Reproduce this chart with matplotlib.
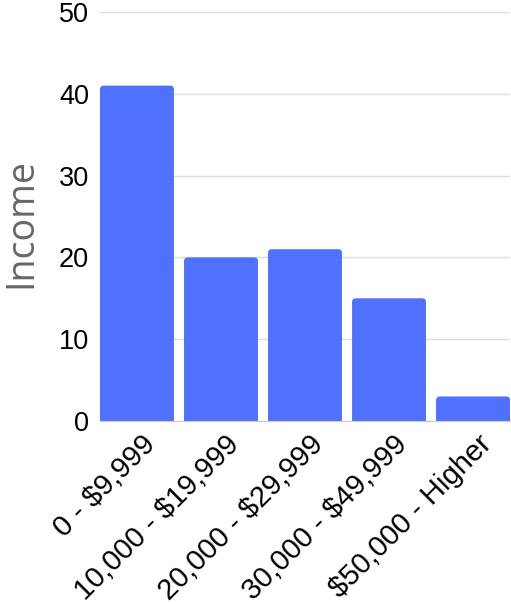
import matplotlib.pyplot as plt
import matplotlib.transforms as mtransforms
from matplotlib.patches import FancyBboxPatch

categories = ["0 - $9,999", "10,000 - $19,999", "20,000 - $29,999",
              "30,000 - $49,999", "$50,000 - Higher"]
values = [41, 20, 21, 15, 3]
y_ticks = [0, 10, 20, 30, 40, 50]

bar_color = "#5070FF"
bar_w = 0.88

plt.rcParams["font.family"] = ["Liberation Sans", "DejaVu Sans"]

fig = plt.figure(figsize=(5.11, 6.04), dpi=100)
ax = fig.add_axes([100 / 511, 183 / 604, 410 / 511, 409 / 604])

# rounded top corners; the bottom rounding is clipped below y=0
pad = 0.045
for i, v in enumerate(values):
    box = FancyBboxPatch((i - bar_w / 2 + pad, -1.0), bar_w - 2 * pad, v + 1.0 - pad * 10,
                         boxstyle=f"round,pad={pad},rounding_size={pad}",
                         mutation_aspect=10, fc=bar_color, ec="none", zorder=3)
    ax.add_patch(box)

ax.set_xlim(-bar_w / 2, len(values) - 1 + bar_w / 2)
ax.set_ylim(0, 50)
ax.set_yticks(y_ticks)
ax.set_yticklabels([str(t) for t in y_ticks], fontsize=19.5)
ax.set_xticks(range(len(categories)))
ax.set_xticklabels([])

# category labels, rotated 45 and shifted a bit right/down from the tick
trans = ax.get_xaxis_transform() + mtransforms.ScaledTranslation(
    14 / 100, -19 / 100, fig.dpi_scale_trans)
for i, cat in enumerate(categories):
    ax.text(i, 0, cat, transform=trans, rotation=45, ha="right", va="center",
            rotation_mode="anchor", fontsize=21)

ax.tick_params(axis="both", length=0, pad=8)
ax.grid(axis="y", color="#dddddd", linewidth=1, zorder=0)
for s in ["top", "right", "left"]:
    ax.spines[s].set_visible(False)
ax.spines["bottom"].set_color("#cccccc")
ax.spines["bottom"].set_zorder(4)

ax.set_ylabel("Income", fontsize=27, color="#666666", family=["Open Sans", "DejaVu Sans"])
ax.yaxis.set_label_coords(-0.145, 0.484)

fig.savefig("out.png", dpi=100)
